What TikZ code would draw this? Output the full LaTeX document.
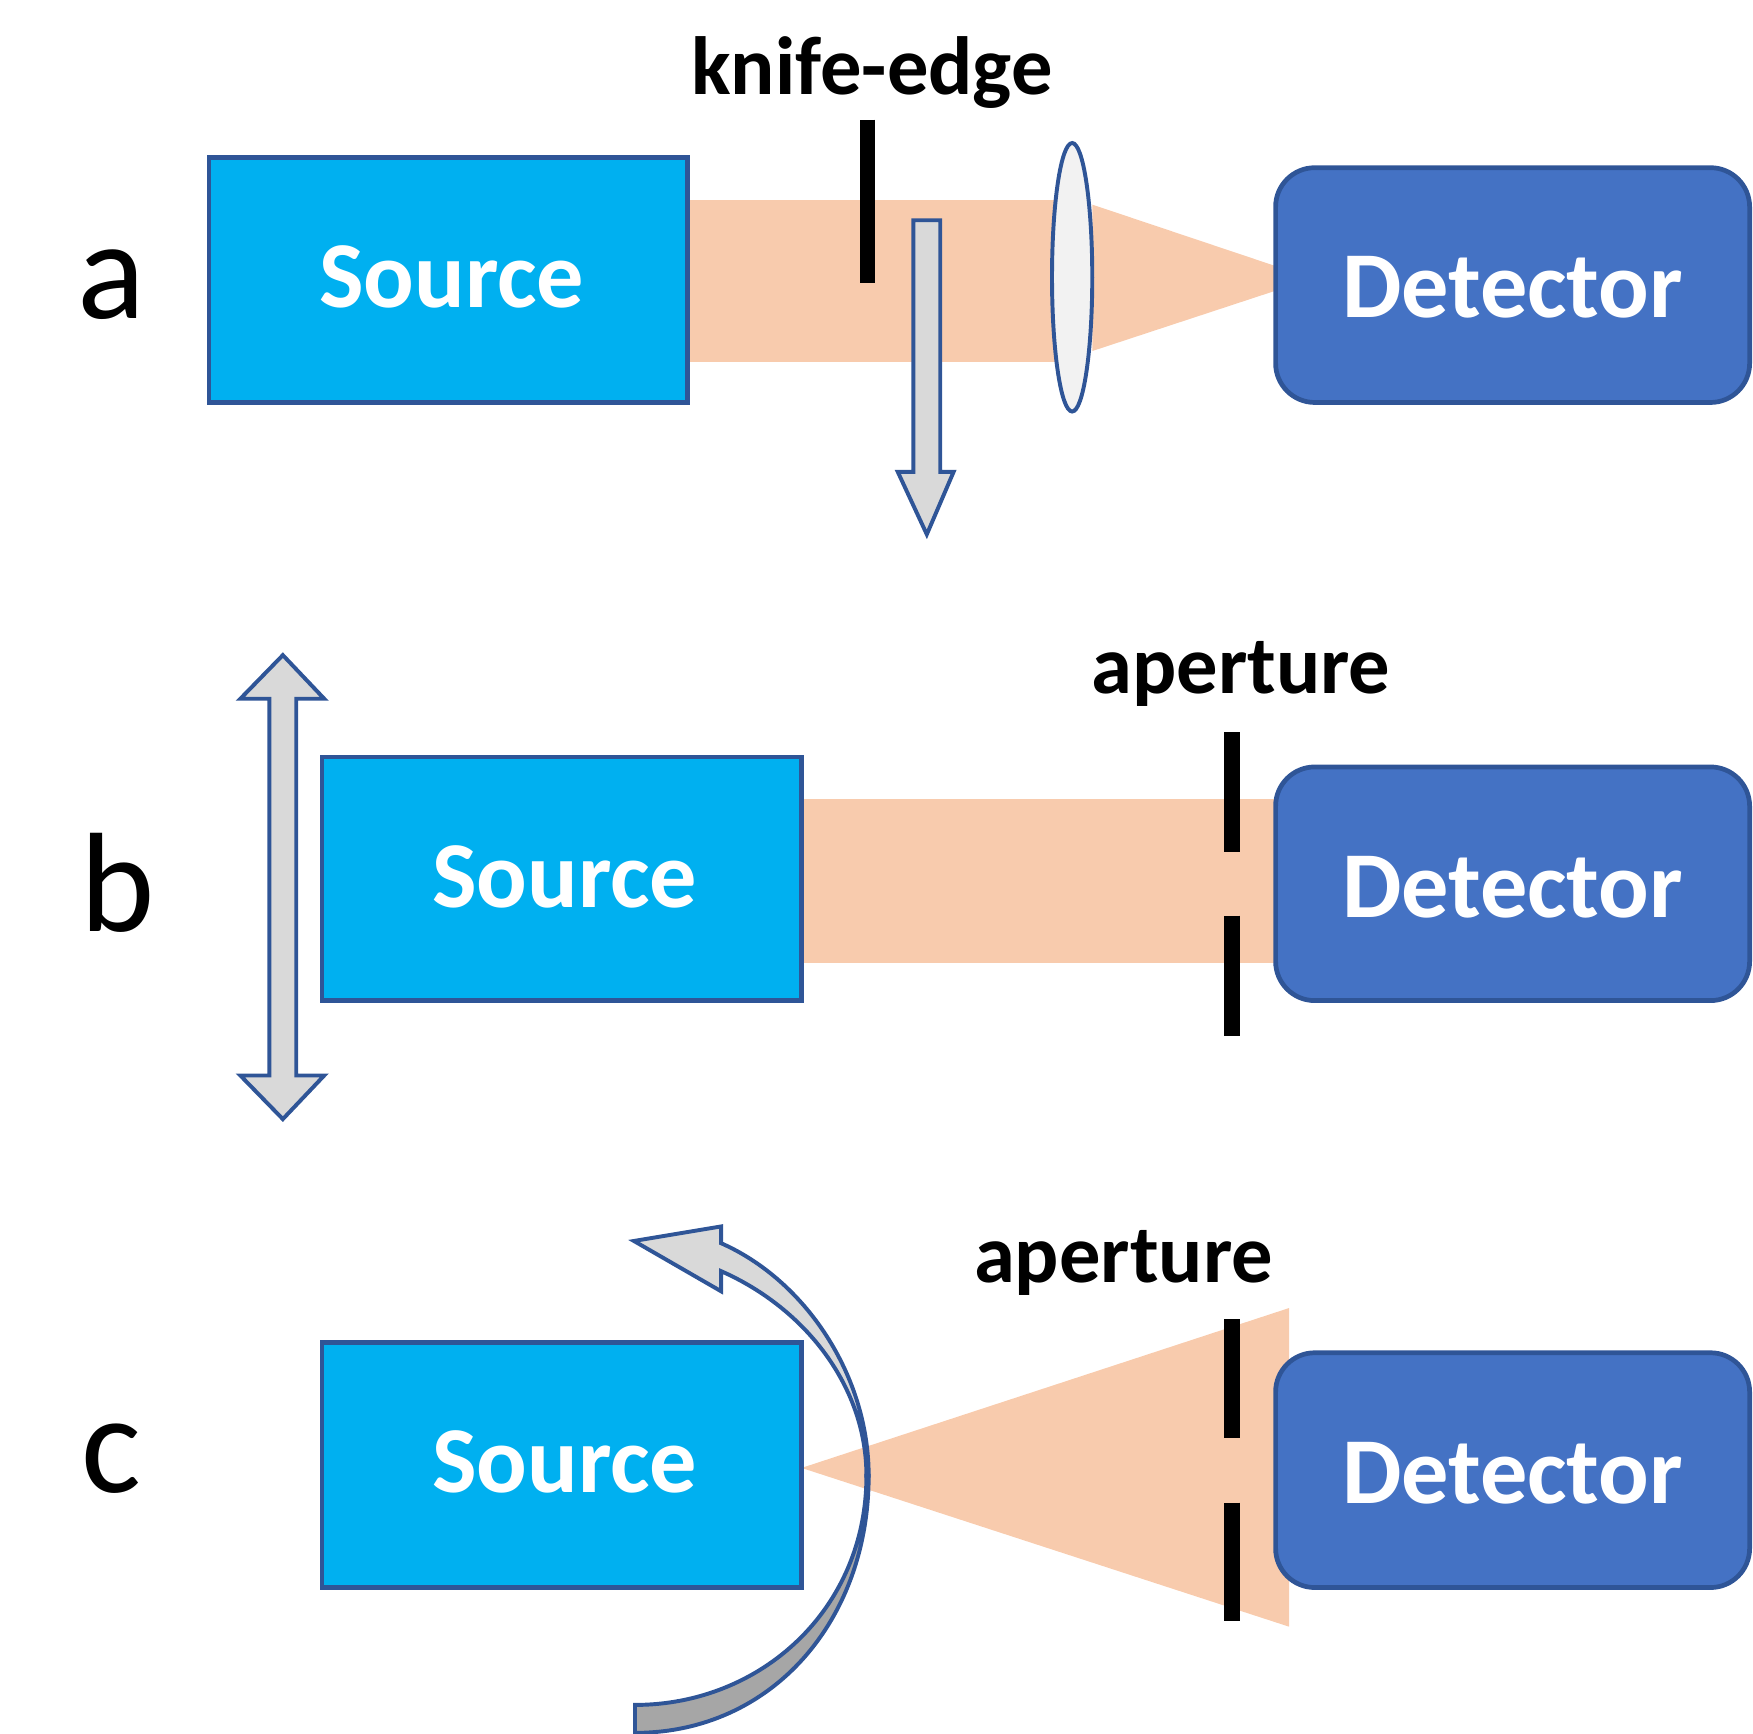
\documentclass[tikz,border=0pt]{standalone}
\usepackage{fontspec}
\setmainfont{Carlito}
\usetikzlibrary{shapes.geometric}
\definecolor{src}{HTML}{00B0F0}
\definecolor{det}{HTML}{4472C4}
\definecolor{bd}{HTML}{2F5597}
\definecolor{beam}{HTML}{F8CBAD}
\definecolor{arr}{HTML}{D9D9D9}
\definecolor{arrd}{HTML}{A6A6A6}
\begin{document}
\begin{tikzpicture}[x=0.01cm,y=-0.01cm,
  srcbox/.style={draw=bd,line width=1.2pt,fill=src},
  detbox/.style={draw=bd,line width=1.2pt,fill=det,rounded corners=0.35cm},
  lab/.style={text=white,font=\bfseries\fontsize{24}{28}\selectfont},
  bar/.style={line width=4pt,black},
  captext/.style={font=\bfseries\fontsize{21}{25}\selectfont},
  big/.style={font=\fontsize{36}{40}\selectfont},
  garrow/.style={draw=bd,line width=1pt,fill=arr,line join=miter}]
\useasboundingbox (0,0) rectangle (1568,1551);
% ---- panel a
\fill[beam] (615,179) rectangle (945,324);
\fill[beam] (977,183) -- (1141,238) -- (1141,260) -- (977,314) -- cycle;
\draw[srcbox] (187,141) rectangle (615,360);
\node[lab] (sa) at (404,248) {Source};
\draw[detbox] (1141,150) rectangle (1565,360);
\node[lab] (da) at (1353,257) {Detector};
\draw[bar] (776,107) -- (776,253);
\node[captext] (ke) at (780,65) {knife-edge};
\node[ellipse,draw=bd,line width=1pt,fill=white!95!black,minimum width=0.36cm,minimum height=2.4cm,inner sep=0] (lens) at (959,248) {};
\draw[garrow] (817,197) -- (841,197) -- (841,422) -- (853,422) -- (829,478) -- (803,422) -- (817,422) -- cycle;
\node[big] (la) at (100,255) {a};
% ---- panel b
\fill[beam] (717,715) rectangle (1141,861);
\draw[srcbox] (288,677) rectangle (717,895);
\node[lab] (sb) at (505,784) {Source};
\draw[detbox] (1141,686) rectangle (1565,895);
\node[lab] (db) at (1353,794) {Detector};
\draw[bar] (1102,655) -- (1102,762);
\draw[bar] (1102,819) -- (1102,927);
\node[captext] (apb) at (1110,603) {aperture};
\draw[garrow] (241,625) -- (215,625) -- (253,586) -- (290,625) -- (265,625) -- (265,962) -- (290,962) -- (253,1001) -- (215,962) -- (241,962) -- cycle;
\node[big] (lb) at (105,790) {b};
% ---- panel c
\fill[beam] (717,1313) -- (1153,1170) -- (1153,1455) -- cycle;
\draw[srcbox] (288,1201) rectangle (717,1420);
\node[lab] (sc) at (505,1308) {Source};
\draw[detbox] (1141,1210) rectangle (1565,1420);
\node[lab] (dc) at (1353,1318) {Detector};
\draw[bar] (1102,1180) -- (1102,1286);
\draw[bar] (1102,1344) -- (1102,1450);
\node[captext] (apc) at (1005,1130) {aperture};
\draw[garrow,fill=arrd] (568,1550) .. controls (690,1550) and (777,1450) .. (777,1320)
  -- (775,1320) .. controls (775,1440) and (680,1525) .. (568,1525) -- cycle;
\draw[garrow] (777,1320) .. controls (777,1230) and (720,1145) .. (645,1112)
  -- (645,1097) -- (567,1110) -- (645,1155) -- (645,1137)
  .. controls (720,1170) and (775,1240) .. (775,1320) -- cycle;
\node[big] (lc) at (100,1305) {c};
\end{tikzpicture}
\end{document}
